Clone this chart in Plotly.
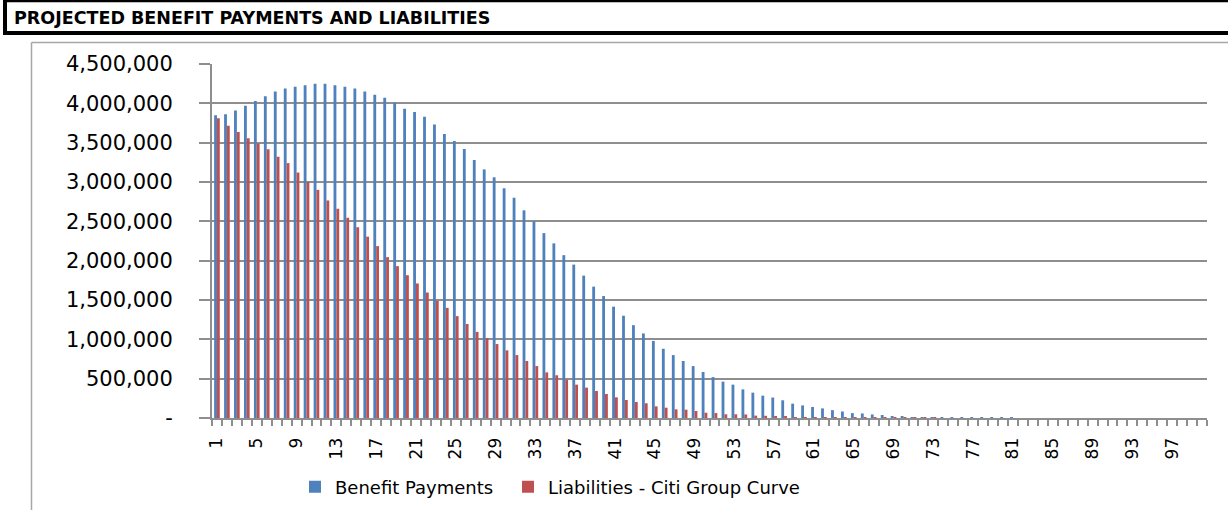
import plotly.graph_objects as go

periods = list(range(1, 101))

benefit_payments = [
    3850000, 3860000, 3910000, 3970000, 4030000, 4090000, 4150000, 4190000, 4210000, 4230000,
    4250000, 4250000, 4230000, 4210000, 4190000, 4150000, 4110000, 4070000, 4010000, 3930000,
    3890000, 3830000, 3730000, 3610000, 3520000, 3420000, 3280000, 3160000, 3060000, 2920000,
    2800000, 2640000, 2500000, 2350000, 2220000, 2070000, 1950000, 1810000, 1670000, 1550000,
    1415000, 1300000, 1180000, 1075000, 980000, 880000, 800000, 725000, 660000, 585000,
    520000, 462000, 424000, 364000, 322000, 284000, 260000, 225000, 182000, 160000,
    140000, 122000, 100000, 83000, 62000, 58000, 45000, 38000, 24000, 16000,
    11000, 3000, 1500, 900, 600, 400, 300, 200, 150, 100,
    80, 60, 50, 40, 30, 25, 20, 15, 12, 10,
    8, 6, 5, 4, 3, 3, 2, 2, 1, 1,
]

liabilities_citi = [
    3810000, 3715000, 3635000, 3555000, 3490000, 3415000, 3320000, 3240000, 3120000, 3000000,
    2900000, 2765000, 2660000, 2545000, 2425000, 2305000, 2185000, 2045000, 1930000, 1815000,
    1710000, 1595000, 1490000, 1400000, 1295000, 1195000, 1095000, 1015000, 940000, 860000,
    800000, 725000, 660000, 580000, 543000, 487000, 424000, 386000, 343000, 305000,
    263000, 229000, 203000, 187000, 148000, 131000, 110000, 106000, 89000, 67000,
    63000, 47000, 47000, 45000, 30000, 28000, 25000, 22000, 8000, 5000,
    2500, 1500, 1000, 700, 500, 400, 300, 250, 200, 150,
    120, 100, 80, 60, 50, 40, 30, 25, 20, 15,
    12, 10, 8, 6, 5, 4, 3, 3, 2, 2,
    2, 1, 1, 1, 1, 1, 1, 1, 1, 1,
]

y_tick_values = [0, 500000, 1000000, 1500000, 2000000, 2500000, 3000000, 3500000, 4000000, 4500000]
y_tick_labels = ["-", "500,000", "1,000,000", "1,500,000", "2,000,000", "2,500,000",
                 "3,000,000", "3,500,000", "4,000,000", "4,500,000"]

title_text = "PROJECTED BENEFIT PAYMENTS AND LIABILITIES"

W, H = 1228, 510
ML, MR, MT, MB = 212, 21, 64, 92
PW = W - ML - MR
PH = H - MT - MB


def px_x(px):
    return (px - ML) / PW


def px_y(py):
    return (H - MB - py) / PH


fig = go.Figure()
fig.add_trace(go.Bar(x=periods, y=benefit_payments, name="Benefit Payments",
                     marker=dict(color="#4F81BD", line=dict(width=0)), legend="legend"))
fig.add_trace(go.Bar(x=periods, y=liabilities_citi, name="Liabilities - Citi Group Curve",
                     marker=dict(color="#C0504D", line=dict(width=0)), legend="legend2"))

grid_col = "#8e8e8e"
leg_font = dict(size=18, family="DejaVu Sans", color="black")
fig.update_layout(
    width=W, height=H,
    margin=dict(l=ML, r=MR, t=MT, b=MB, autoexpand=False),
    paper_bgcolor="white", plot_bgcolor="white",
    barmode="group", bargap=0.43, bargroupgap=0,
    font=dict(family="DejaVu Sans", color="black"),
    showlegend=True,
    legend=dict(orientation="h", x=px_x(295), xanchor="left", y=px_y(487), yanchor="middle",
                font=leg_font, bgcolor="rgba(0,0,0,0)"),
    legend2=dict(orientation="h", x=px_x(508), xanchor="left", y=px_y(487), yanchor="middle",
                 font=leg_font, bgcolor="rgba(0,0,0,0)"),
    xaxis=dict(range=[0.5, 100.5], tickmode="linear", tick0=1, dtick=4,
               tickangle=-90, ticks="", showgrid=False, ticklabelstandoff=11,
               showline=True, linecolor=grid_col, linewidth=2, automargin=False,
               tickfont=dict(size=17, family="DejaVu Sans", color="black"),
               minor=dict(tick0=0.5, dtick=1, ticks="outside", ticklen=6,
                          tickcolor=grid_col, tickwidth=1.5, showgrid=False),
               zeroline=False),
    yaxis=dict(range=[0, 4500000], tickmode="array", tickvals=y_tick_values,
               ticktext=y_tick_labels, showgrid=True, gridcolor=grid_col, gridwidth=2,
               showline=True, linecolor=grid_col, linewidth=2, automargin=False,
               ticks="outside", ticklen=11, tickcolor=grid_col, tickwidth=2,
               ticklabelstandoff=22,
               tickfont=dict(size=21, family="DejaVu Sans", color="black"),
               zeroline=False),
    shapes=[
        # outer chart frame (grey)
        dict(type="line", xref="paper", yref="paper",
             x0=px_x(31.5), x1=px_x(31.5), y0=px_y(42.5), y1=px_y(560),
             line=dict(color="#a6a6a6", width=1.5)),
        dict(type="line", xref="paper", yref="paper",
             x0=px_x(31.5), x1=px_x(1240), y0=px_y(42.5), y1=px_y(42.5),
             line=dict(color="#a6a6a6", width=1.5)),
        # title box (black)
        dict(type="line", xref="paper", yref="paper",
             x0=px_x(5), x1=px_x(5), y0=px_y(0), y1=px_y(35),
             line=dict(color="black", width=4)),
        dict(type="line", xref="paper", yref="paper",
             x0=px_x(3), x1=px_x(1240), y0=px_y(1), y1=px_y(1),
             line=dict(color="black", width=2.5)),
        dict(type="line", xref="paper", yref="paper",
             x0=px_x(3), x1=px_x(1240), y0=px_y(33), y1=px_y(33),
             line=dict(color="black", width=4)),
    ],
    annotations=[
        dict(text="<b>" + title_text + "</b>", xref="paper", yref="paper",
             x=px_x(12), y=px_y(18), xanchor="left", yanchor="middle", showarrow=False,
             font=dict(size=17.5, family="DejaVu Sans", color="black")),
    ],
)

fig.write_html("out.html")
